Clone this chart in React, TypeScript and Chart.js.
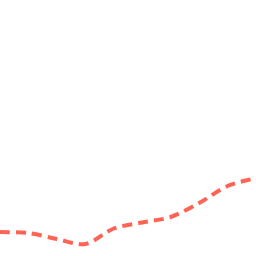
import React, { useEffect, useRef } from "react";
import { Chart, registerables } from "chart.js";

Chart.register(...registerables);

const labels = ["1", "2", "3", "4", "5", "6", "7", "8", "9", "10"];
const values = [24, 23, 17, 12, 27.5, 33.5, 39, 53, 70, 78];
const yMin = 0;
const yMax = 256;

export default function App() {
  const ref = useRef<HTMLCanvasElement | null>(null);
  useEffect(() => {
    if (!ref.current) return;
    const chart = new Chart(ref.current, {
      type: "line",
      data: {
        labels,
        datasets: [
          {
            data: values,
            borderColor: "#ff6354",
            borderWidth: 4,
            borderDash: [10, 6],
            pointRadius: 0,
            tension: 0.3,
            fill: false,
          },
        ],
      },
      options: {
        animation: false,
        responsive: false,
        layout: { padding: 0 },
        plugins: { legend: { display: false }, tooltip: { enabled: false } },
        scales: {
          x: { display: false, offset: false },
          y: { display: false, min: yMin, max: yMax },
        },
      },
    });
    return () => chart.destroy();
  }, []);
  return (
    <div style={{ position: "fixed", left: 0, top: 0, width: 256, height: 256, background: "#fff" }}>
      <canvas ref={ref} width={256} height={256} />
    </div>
  );
}
